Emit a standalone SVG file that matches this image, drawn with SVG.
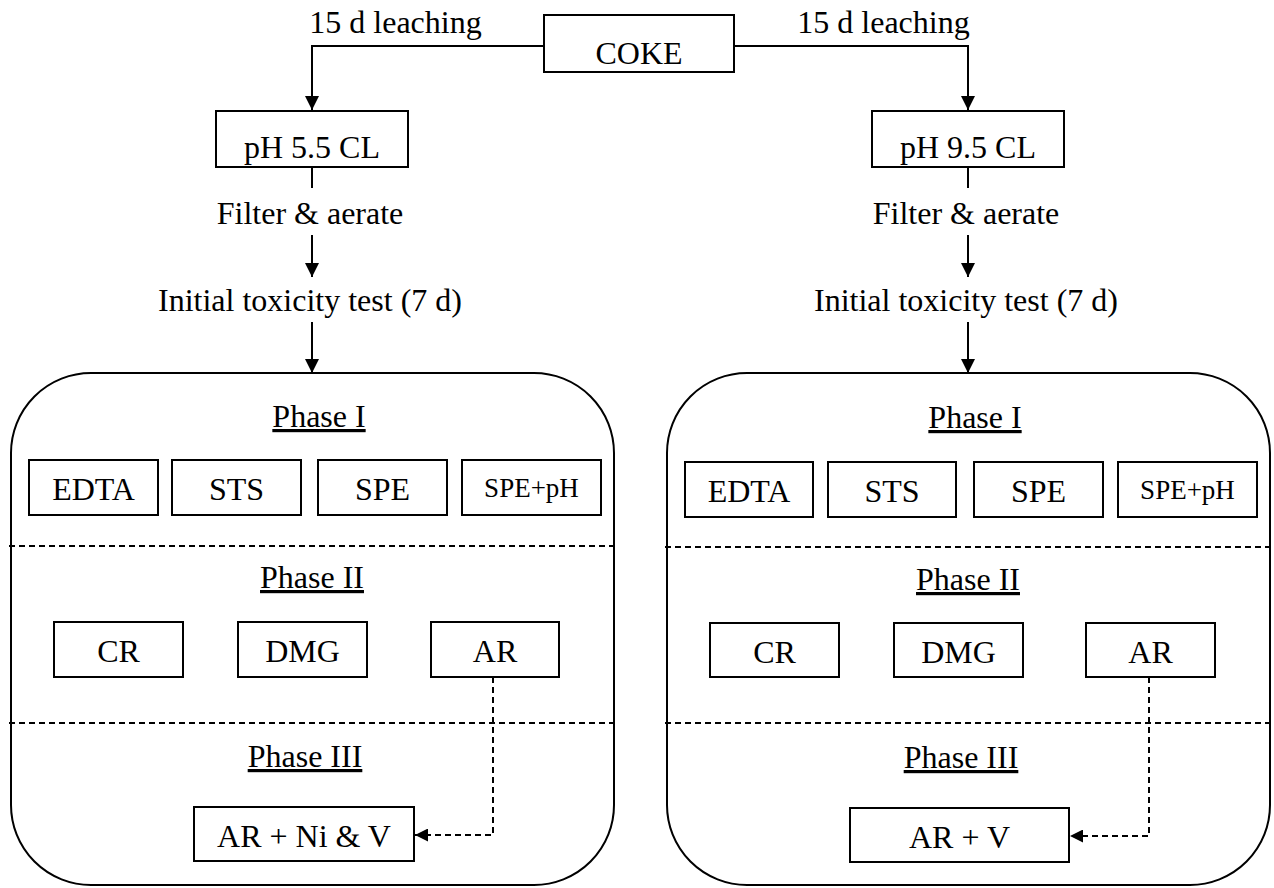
<svg xmlns="http://www.w3.org/2000/svg" width="1274" height="888" viewBox="0 0 1274 888">
<style>
text{font-family:"Liberation Serif","Times New Roman",serif;font-size:32px;fill:#000;text-anchor:middle}
.sm{font-size:27px}
.u{text-decoration:underline}
.box{fill:#fff;stroke:#000;stroke-width:2}
.cont{fill:#fff;stroke:#000;stroke-width:2}
.ln{fill:none;stroke:#000;stroke-width:2}
.dash{fill:none;stroke:#000;stroke-width:2;stroke-dasharray:6 4}
</style>
<defs>
<marker id="ah" viewBox="0 0 14 14" refX="14" refY="7" markerWidth="14" markerHeight="14" markerUnits="userSpaceOnUse" orient="auto">
<path d="M0,0 L14,7 L0,14 Z" fill="#000"/>
</marker>
<marker id="ahs" viewBox="0 0 14 14" refX="14" refY="7" markerWidth="13" markerHeight="13" markerUnits="userSpaceOnUse" orient="auto">
<path d="M0,0 L14,7 L0,14 Z" fill="#000"/>
</marker>
</defs>

<g id="container-left"><rect class="cont" x="11" y="373" width="603" height="512" rx="80" ry="80"/></g>
<g id="container-right"><rect class="cont" x="667" y="373" width="603" height="512" rx="80" ry="80"/></g>

<g id="dividers">
<line class="dash" x1="9" y1="546" x2="614" y2="546"/>
<line class="dash" x1="9" y1="723" x2="614" y2="723"/>
<line class="dash" x1="665" y1="547" x2="1270" y2="547"/>
<line class="dash" x1="665" y1="723" x2="1270" y2="723"/>
</g>

<g id="connectors">
<path class="ln" d="M544,46 H312 V110" marker-end="url(#ah)"/>
<path class="ln" d="M734,46 H968 V110" marker-end="url(#ah)"/>
<line class="ln" x1="312" y1="167" x2="312" y2="188"/>
<line class="ln" x1="968" y1="167" x2="968" y2="188"/>
<line class="ln" x1="312" y1="235" x2="312" y2="277" marker-end="url(#ah)"/>
<line class="ln" x1="968" y1="235" x2="968" y2="277" marker-end="url(#ah)"/>
<line class="ln" x1="312" y1="322" x2="312" y2="373" marker-end="url(#ah)"/>
<line class="ln" x1="968" y1="322" x2="968" y2="373" marker-end="url(#ah)"/>
<path class="dash" d="M493,677 V835 H415" marker-end="url(#ahs)"/>
<path class="dash" d="M1149,677 V836 H1070" marker-end="url(#ahs)"/>
</g>

<g id="labels">
<text x="395.5" y="33">15 d leaching</text>
<text x="883.5" y="33">15 d leaching</text>
<text x="310" y="224">Filter &amp; aerate</text>
<text x="966" y="224">Filter &amp; aerate</text>
<text x="310" y="311">Initial toxicity test (7 d)</text>
<text x="966" y="311">Initial toxicity test (7 d)</text>
<text class="u" x="319" y="427">Phase I</text>
<text class="u" x="312" y="588">Phase II</text>
<text class="u" x="305" y="767">Phase III</text>
<text class="u" x="975" y="428">Phase I</text>
<text class="u" x="968" y="590">Phase II</text>
<text class="u" x="961" y="768">Phase III</text>
</g>

<g id="coke"><rect class="box" x="544" y="15" width="190" height="57"/><text x="639" y="64">COKE</text></g>
<g id="ph55"><rect class="box" x="216" y="111" width="192" height="56"/><text x="312" y="158">pH 5.5 CL</text></g>
<g id="ph95"><rect class="box" x="872" y="111" width="192" height="56"/><text x="968" y="158">pH 9.5 CL</text></g>

<g id="l-edta"><rect class="box" x="29" y="460" width="129" height="55"/><text x="93.5" y="500">EDTA</text></g>
<g id="l-sts"><rect class="box" x="172" y="460" width="129" height="55"/><text x="236.5" y="500">STS</text></g>
<g id="l-spe"><rect class="box" x="318" y="460" width="129" height="55"/><text x="382.5" y="500">SPE</text></g>
<g id="l-speph"><rect class="box" x="462" y="460" width="139" height="55"/><text class="sm" x="531.5" y="497">SPE+pH</text></g>
<g id="l-cr"><rect class="box" x="54" y="622" width="129" height="55"/><text x="118.5" y="662">CR</text></g>
<g id="l-dmg"><rect class="box" x="238" y="622" width="129" height="55"/><text x="302.5" y="662">DMG</text></g>
<g id="l-ar"><rect class="box" x="431" y="622" width="128" height="55"/><text x="495" y="662">AR</text></g>
<g id="l-arniv"><rect class="box" x="194" y="807" width="220" height="54"/><text x="304" y="847">AR + Ni &amp; V</text></g>

<g id="r-edta"><rect class="box" x="685" y="462" width="128" height="55"/><text x="749" y="502">EDTA</text></g>
<g id="r-sts"><rect class="box" x="828" y="462" width="128" height="55"/><text x="892" y="502">STS</text></g>
<g id="r-spe"><rect class="box" x="974" y="462" width="129" height="55"/><text x="1038.5" y="502">SPE</text></g>
<g id="r-speph"><rect class="box" x="1118" y="462" width="139" height="55"/><text class="sm" x="1187.5" y="499">SPE+pH</text></g>
<g id="r-cr"><rect class="box" x="710" y="623" width="129" height="54"/><text x="774.5" y="663">CR</text></g>
<g id="r-dmg"><rect class="box" x="894" y="623" width="129" height="54"/><text x="958.5" y="663">DMG</text></g>
<g id="r-ar"><rect class="box" x="1086" y="623" width="129" height="54"/><text x="1150.5" y="663">AR</text></g>
<g id="r-arv"><rect class="box" x="850" y="808" width="219" height="54"/><text x="959.5" y="848">AR + V</text></g>
</svg>
